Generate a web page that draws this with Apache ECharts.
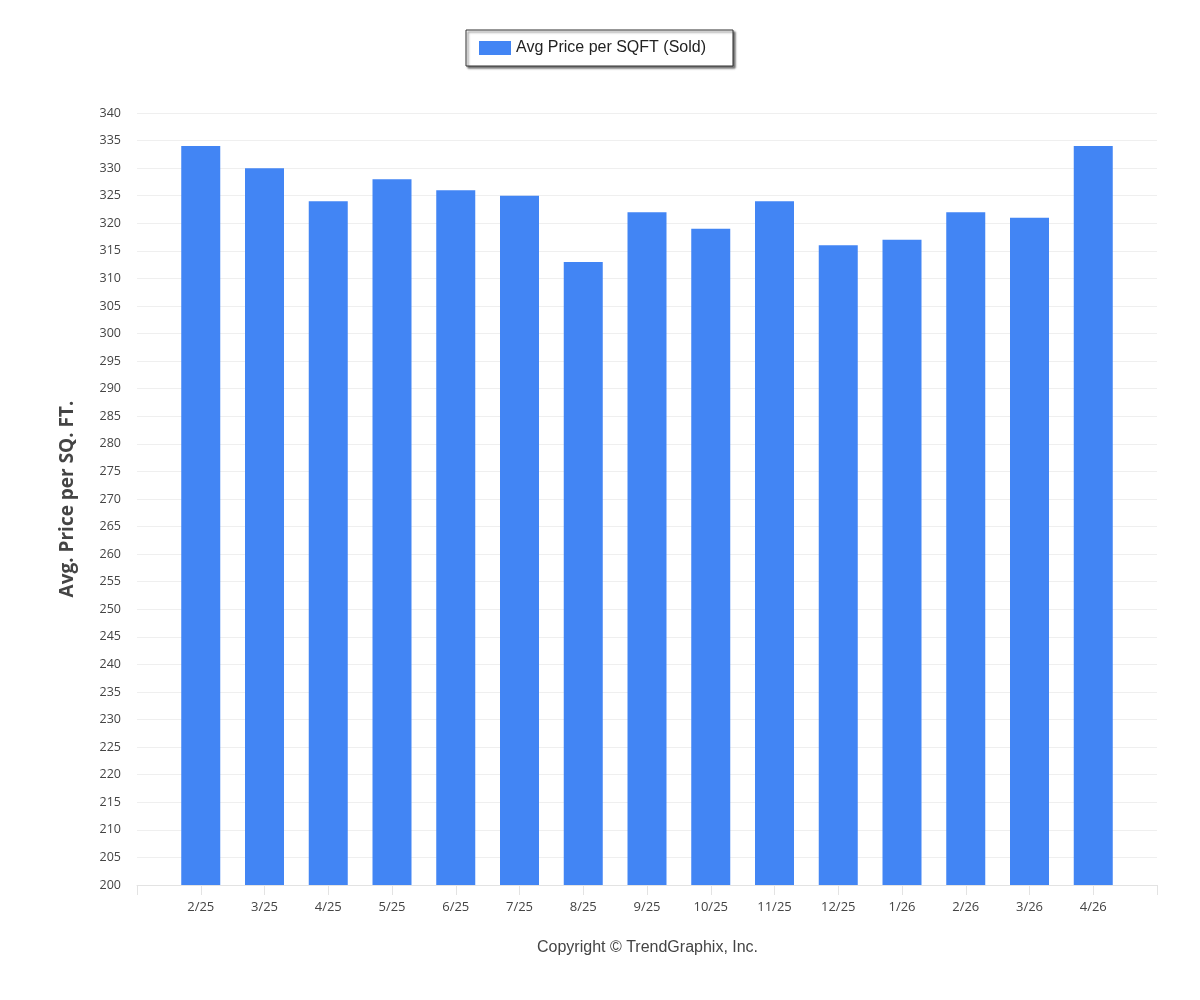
<!DOCTYPE html>
<html>
<head>
<meta charset="utf-8">
<script src="https://cdn.jsdelivr.net/npm/echarts@6/dist/echarts.min.js"></script>
<style>
	html, body { margin:0; padding:0; background:#fff; }
	#main { width:1200px; height:1000px; }
</style>
</head>
<body>
<div id="main"></div>
<script>
	// months shown on the x axis (empty slots at both ends like the original)
	var months = ['', '2/25', '3/25', '4/25', '5/25', '6/25', '7/25', '8/25', '9/25', '10/25', '11/25', '12/25', '1/26', '2/26', '3/26', '4/26', ''];
	var avgPrice = [null, 334, 330, 324, 328, 326, 325, 313, 322, 319, 324, 316, 317, 322, 321, 334, null];
	var seriesName = 'Avg Price per SQFT (Sold)';
	var yTitle = 'Avg. Price per SQ. FT.';
	var footer = 'Copyright \u00a9 TrendGraphix, Inc.';

	var option = {
		animation: false,
		backgroundColor: '#fff',
		legend: {
			top: 30,
			left: 466,
			itemWidth: 32,
			itemHeight: 14,
			itemGap: 6,
			padding: [10, 27, 10, 13],
			borderColor: '#333',
			borderWidth: 1,
			shadowColor: 'rgba(0,0,0,0.55)',
			shadowBlur: 2,
			shadowOffsetX: 2,
			shadowOffsetY: 2,
			backgroundColor: '#fff',
			textStyle: { fontFamily: 'Liberation Sans', fontSize: 16, color: '#222' },
			data: [{ name: seriesName, icon: 'rect' }]
		},
		grid: { left: 137, right: 43, top: 113, bottom: 115 },
		xAxis: {
			type: 'category',
			data: months,
			boundaryGap: false,
			axisLine: { lineStyle: { color: '#e3e3e3' } },
			axisTick: { show: true, length: 10, interval: 0, lineStyle: { color: '#e3e3e3' } },
			axisLabel: { interval: 0, margin: 16, color: '#444', fontFamily: 'Open Sans', fontSize: 13 },
			splitLine: { show: false }
		},
		yAxis: {
			type: 'value',
			min: 200,
			max: 340,
			interval: 5,
			name: yTitle,
			nameLocation: 'middle',
			nameGap: 60,
			nameTextStyle: { fontFamily: 'Open Sans', fontWeight: 'bold', fontSize: 19, color: '#444' },
			axisLine: { show: false },
			axisTick: { show: false },
			axisLabel: { margin: 16, color: '#444', fontFamily: 'Open Sans', fontSize: 12.5 },
			splitLine: { lineStyle: { color: '#efefef' } }
		},
		series: [{
			name: seriesName,
			type: 'bar',
			data: avgPrice,
			barWidth: 39,
			itemStyle: { color: '#4285f4' }
		}],
		graphic: [{
			type: 'text',
			left: 537,
			top: 940,
			style: { text: footer, font: '16px "Liberation Sans"', fill: '#444' }
		}]
	};

	var myChart = echarts.init(document.getElementById('main'));
	myChart.setOption(option, true);
</script>
</body>
</html>
